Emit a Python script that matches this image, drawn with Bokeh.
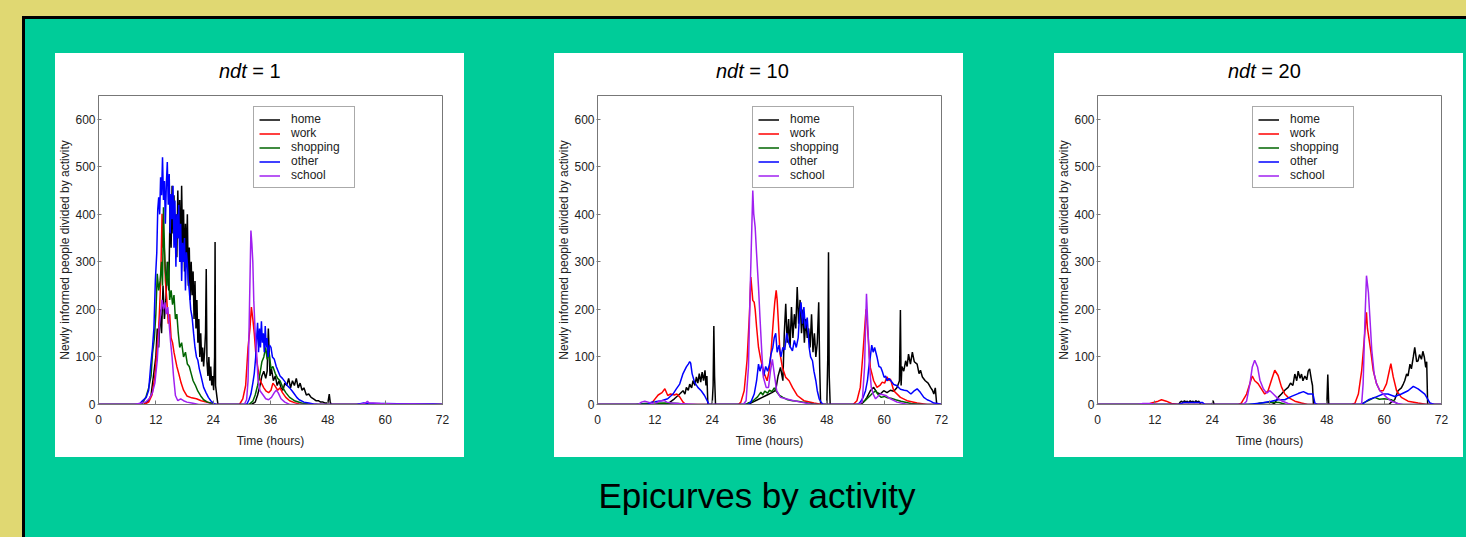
from bokeh.plotting import figure
from bokeh.models import Legend, LegendItem, Range1d, FixedTicker, Div
from bokeh.layouts import column, row
from bokeh.embed import file_html
from bokeh.resources import INLINE

# ---------------- data ----------------
ACTIVITIES = ["home", "work", "shopping", "other", "school"]
NDT_VALUES = ["1", "10", "20"]
X_TICKS = [0, 12, 24, 36, 48, 60, 72]
Y_TICKS = [0, 100, 200, 300, 400, 500, 600]
X_LABEL = "Time (hours)"
Y_LABEL = "Newly informed people divided by activity"
PAGE_TITLE = "Epicurves by activity"

# panel ndt = 1 : (time in hours, newly informed people)
P1_HOME = [(0,0),(9.5,0),(10.5,8),(11,20),(11.5,60),(12,100),(12.3,160),(12.6,120),(12.9,200),(13.2,150),(13.5,250),(13.8,180),(14.1,220),(14.4,300),(14.7,240),(15.0,420),(15.2,330),(15.4,460),(15.6,360),(15.8,440),(16.0,340),(16.2,400),(16.4,310),(16.6,450),(16.8,350),(17.0,430),(17.2,300),(17.4,460),(17.6,330),(17.8,410),(18.0,280),(18.2,380),(18.4,300),(18.6,400),(18.8,250),(19.0,330),(19.2,220),(19.4,300),(19.6,230),(19.8,280),(20.0,180),(20.2,260),(20.4,160),(20.6,220),(20.8,130),(21.0,180),(21.2,100),(21.4,150),(21.6,90),(21.8,120),(22.0,80),(22.2,110),(22.4,150),(22.55,285),(22.7,90),(22.9,60),(23.1,100),(23.3,50),(23.5,80),(23.7,40),(23.9,60),(24.1,30),(24.3,100),(24.4,342),(24.5,40),(24.8,15),(25.0,0),
           (32.0,0),(32.8,5),(33.3,20),(33.8,40),(34.2,60),(34.6,70),(35.0,55),(35.3,70),(35.55,160),(35.9,60),(36.2,75),(36.6,50),(37.0,60),(37.4,40),(37.8,50),(38.2,35),(38.6,30),(39.0,45),(39.4,40),(39.8,55),(40.2,35),(40.6,50),(41.0,40),(41.4,55),(41.8,35),(42.2,45),(42.6,30),(43.0,35),(43.5,20),(44.0,22),(44.5,15),(45.0,12),(45.5,8),(46.0,8),(46.5,5),(47.0,5),(47.5,3),(48.0,3),(48.3,22),(48.5,5),(48.7,0),(72,0)]
P1_WORK = [(0,0),(9.5,0),(10.5,5),(11.2,20),(11.8,60),(12.2,110),(12.6,160),(12.9,230),(13.1,300),(13.3,401),(13.5,330),(13.7,350),(14.0,260),(14.3,220),(14.6,170),(14.9,190),(15.2,140),(15.5,130),(15.8,110),(16.1,95),(16.4,80),(16.8,65),(17.3,45),(17.8,30),(18.5,18),(19.5,14),(20.5,12),(21.5,8),(23,4),(24.5,0),
           (29.5,0),(30.2,12),(30.8,40),(31.3,120),(31.7,160),(32.0,205),(32.3,180),(32.6,150),(32.9,110),(33.3,80),(33.7,55),(34.1,45),(34.6,35),(35.1,28),(35.6,25),(36.1,30),(36.5,45),(37.0,38),(37.5,30),(38.0,35),(38.5,25),(39.2,15),(40,8),(41,4),(42,1),(43,0),(72,0)]
P1_SHOP = [(0,0),(9,0),(9.9,15),(10.5,35),(11.0,60),(11.3,107),(11.7,140),(12.0,190),(12.3,275),(12.6,240),(12.9,260),(13.2,300),(13.4,250),(13.6,415),(13.8,330),(14.0,280),(14.3,250),(14.6,300),(14.9,220),(15.2,240),(15.5,210),(15.8,230),(16.1,180),(16.4,190),(16.7,150),(17.0,120),(17.4,130),(17.8,100),(18.2,110),(18.6,85),(19.0,80),(19.4,65),(19.8,50),(20.3,40),(20.8,28),(21.4,18),(22,10),(22.8,5),(23.5,3),(24.5,0),
           (31.5,0),(32.3,7),(32.8,20),(33.3,40),(33.8,65),(34.2,90),(34.6,100),(35.0,120),(35.3,95),(35.7,110),(36.1,75),(36.5,80),(37.0,65),(37.5,55),(38.0,50),(38.6,35),(39.2,25),(40,15),(41,8),(42.5,3),(44,1),(45,0),(72,0)]
P1_OTHER = [(0,0),(8.5,0),(9.2,8),(10.0,15),(10.5,30),(10.9,79),(11.3,120),(11.6,161),(11.9,261),(12.2,320),(12.4,410),(12.6,436),(12.8,400),(13.0,478),(13.2,440),(13.4,520),(13.6,430),(13.8,470),(14.0,380),(14.2,464),(14.4,510),(14.6,420),(14.8,485),(15.0,360),(15.2,443),(15.4,390),(15.6,460),(15.8,330),(16.0,429),(16.2,290),(16.4,400),(16.6,350),(16.8,420),(17.0,300),(17.2,380),(17.4,260),(17.6,340),(17.8,300),(18.0,350),(18.2,240),(18.4,320),(18.6,297),(18.8,260),(19.0,240),(19.3,200),(19.6,183),(19.9,150),(20.2,120),(20.5,100),(20.8,93),(21.1,75),(21.5,58),(22.0,36),(22.5,25),(23.0,15),(23.5,8),(24.0,3),(24.6,0),
            (31.0,0),(31.5,10),(31.9,22),(32.3,45),(32.6,65),(32.9,100),(33.1,140),(33.3,172),(33.5,110),(33.7,160),(33.9,120),(34.1,175),(34.3,130),(34.5,150),(34.7,110),(34.9,165),(35.1,120),(35.3,140),(35.5,100),(35.8,125),(36.1,120),(36.4,100),(36.8,95),(37.2,80),(37.6,70),(38.0,60),(38.5,55),(39.0,48),(39.5,40),(40.0,35),(40.5,29),(41.0,22),(41.5,15),(42.0,10),(43.0,5),(44.0,3),(45.0,1),(46.0,0),
            (54.0,0),(55.5,3),(57,2),(60,2),(65,1),(70,1),(72,0)]
P1_SCHOOL = [(0,0),(7.5,0),(9,3),(10,6),(10.6,12),(11.3,25),(11.8,45),(12.3,93),(12.7,163),(13.0,190),(13.3,220),(13.6,200),(13.9,215),(14.2,190),(14.5,205),(14.8,168),(15.1,130),(15.4,100),(15.7,60),(16.1,19),(16.6,8),(17.2,12),(17.8,8),(18.5,5),(19.5,3),(21,0),
             (30.5,0),(31.0,10),(31.3,50),(31.6,205),(31.9,366),(32.1,338),(32.3,300),(32.5,219),(32.8,150),(33.1,107),(33.4,50),(33.8,29),(34.3,22),(35.0,12),(35.6,10),(36.2,15),(36.8,25),(37.2,30),(37.6,25),(38.2,12),(39,5),(40,0),
             (54.5,0),(55.5,2),(56.0,4),(56.3,7),(56.6,3),(57.5,3),(59,2),(62,1),(66,1),(72,0)]

# panel ndt = 10
P2_HOME = [(0,0),(14.5,0),(16.1,12),(17.2,22),(17.9,29),(18.3,22),(18.6,36),(19.0,30),(19.3,43),(19.7,35),(20.0,50),(20.4,40),(20.7,58),(21.0,45),(21.3,65),(21.6,47),(21.9,68),(22.2,50),(22.5,72),(22.7,40),(22.9,60),(23.1,0),(24.0,0),(24.2,40),(24.35,165),(24.5,60),(24.7,0),
           (31.5,0),(32.5,5),(33.5,10),(34.5,15),(35.5,20),(36.5,25),(37.3,30),(37.8,60),(38.3,78),(38.8,50),(39.1,150),(39.4,212),(39.7,130),(40.0,180),(40.3,120),(40.6,205),(40.9,140),(41.2,190),(41.5,160),(41.8,247),(42.1,170),(42.4,220),(42.7,150),(43.0,200),(43.3,130),(43.6,180),(43.9,140),(44.2,160),(44.5,120),(44.8,190),(45.1,110),(45.4,150),(45.7,100),(46.0,130),(46.3,215),(46.5,80),(46.7,0),(48.0,0),(48.2,100),(48.35,320),(48.5,60),(48.7,0),
           (55,0),(55.7,5),(56.4,15),(57.1,29),(57.8,36),(58.5,25),(59.2,22),(59.9,29),(60.6,25),(61.3,30),(62.0,28),(62.7,36),(63.2,50),(63.4,199),(63.55,40),(63.7,80),(64.1,70),(64.5,92),(64.8,80),(65.1,106),(65.5,85),(65.9,110),(66.3,90),(66.9,85),(67.3,65),(67.6,72),(68.0,58),(68.6,50),(69.2,45),(69.7,36),(70.1,30),(70.4,22),(70.7,35),(71.0,0),(72,0)]
P2_WORK = [(0,0),(10.5,0),(11.5,5),(12.7,20),(13.5,25),(14.1,33),(14.7,19),(15.3,22),(16.1,20),(16.6,22),(17.2,16),(17.9,5),(18.5,0),
           (29.5,0),(30.0,5),(30.7,29),(31.3,93),(31.8,190),(32.1,268),(32.5,219),(32.8,215),(33.0,200),(33.3,163),(33.7,120),(34.2,93),(34.9,65),(35.5,50),(36.0,75),(36.3,107),(36.6,149),(36.9,190),(37.1,215),(37.4,240),(37.6,220),(37.8,184),(38.2,107),(38.7,78),(39.4,57),(40.1,50),(40.8,36),(41.8,19),(43.2,8),(45.3,3),(47,0),
           (53.5,0),(54.3,8),(55.0,36),(55.5,100),(55.9,156),(56.2,200),(56.4,175),(56.6,149),(57.1,78),(57.8,50),(58.5,36),(59.1,40),(59.6,47),(60.1,45),(60.6,58),(61.0,50),(61.3,54),(62.0,29),(63.4,15),(64.8,8),(66.9,3),(69,0),(72,0)]
P2_SHOP = [(0,0),(8,0),(10,2),(14,3),(17,2),(19,0),
           (31.0,0),(31.5,3),(32.3,6),(32.8,10),(33.5,16),(34.2,26),(34.6,20),(35.0,28),(35.6,24),(36.0,30),(36.5,27),(37.0,35),(37.4,28),(38.1,19),(38.8,15),(39.8,10),(40.8,8),(41.9,7),(43,5),(44,3),(46,0),
           (54.5,0),(55.1,3),(56.0,8),(56.5,13),(57.0,18),(57.6,24),(58.2,29),(58.8,20),(59.4,15),(60.0,17),(60.7,14),(61.4,13),(62.4,10),(63.5,7),(65.6,2),(68,0),(72,0)]
P2_OTHER = [(0,0),(10.5,0),(11.3,5),(13.4,8),(14.7,12),(15.8,22),(16.5,33),(17.2,43),(17.9,65),(18.6,79),(19.0,85),(19.3,90),(19.5,87),(19.8,65),(20.3,47),(21.0,36),(21.7,29),(22.4,19),(23.1,5),(23.3,0),
            (31.5,0),(32.1,5),(32.8,22),(33.3,50),(33.7,85),(34.0,70),(34.4,85),(34.8,60),(35.2,80),(35.6,70),(36.0,85),(36.3,105),(36.7,120),(37.0,141),(37.3,150),(37.6,110),(38.0,125),(38.4,100),(38.8,120),(39.2,115),(39.6,150),(40.0,130),(40.4,120),(40.8,113),(41.2,135),(41.6,120),(42.0,140),(42.3,190),(42.6,215),(42.9,170),(43.2,205),(43.5,160),(43.9,183),(44.3,120),(44.6,100),(45.0,92),(45.3,70),(45.7,50),(46.0,29),(46.4,12),(46.8,5),(47.2,0),
            (54.5,0),(55.0,5),(55.6,15),(56.1,29),(56.5,50),(56.8,79),(57.1,100),(57.4,125),(57.7,110),(58.0,120),(58.5,100),(58.9,80),(59.3,78),(59.6,70),(60.0,57),(60.3,60),(60.6,50),(61.0,55),(61.4,50),(62.0,42),(62.6,40),(63.4,32),(64.2,30),(64.8,29),(65.6,22),(66.2,28),(66.9,33),(67.6,25),(68.3,15),(69.0,10),(69.7,7),(70.4,3),(71.2,2),(72,0)]
P2_SCHOOL = [(0,0),(8.5,0),(9.2,5),(9.9,7),(10.6,5),(11.5,2),(12.5,4),(13.0,8),(14.0,8),(14.5,5),(15.5,3),(17,2),(19,1),(21,0),
             (30.5,0),(31.1,8),(31.6,79),(31.9,219),(32.3,373),(32.5,450),(32.7,401),(33.0,373),(33.3,317),(33.7,247),(34.0,184),(34.4,107),(34.7,58),(35.3,36),(35.8,36),(36.2,70),(36.6,95),(37.1,57),(37.5,29),(38.3,15),(39.4,12),(41.1,8),(42.5,5),(44.6,1),(46,0),
             (54.5,0),(55.4,5),(55.9,79),(56.1,163),(56.3,233),(56.6,163),(56.9,85),(57.3,36),(57.7,22),(58.2,12),(59.2,22),(60.3,19),(61.3,12),(62.7,5),(65,0),(72,0)]

# panel ndt = 20
P3_HOME = [(0,0),(17.0,0),(17.3,5),(17.6,7),(17.9,4),(18.2,8),(18.5,5),(18.8,7),(19.1,4),(19.4,8),(19.7,5),(20.0,7),(20.3,4),(20.6,8),(20.9,5),(21.2,7),(21.4,4),(21.6,0),(24.0,0),(24.2,8),(24.4,0),
           (36.5,0),(37.1,3),(37.8,15),(38.5,22),(39.2,30),(39.9,36),(40.4,45),(40.9,40),(41.3,64),(41.7,50),(42.0,70),(42.4,55),(42.7,64),(43.0,50),(43.4,60),(43.8,52),(44.1,70),(44.4,75),(44.8,50),(45.0,40),(45.2,0),(48.0,0),(48.2,63),(48.4,0),
           (61.0,0),(61.5,5),(62.2,10),(62.9,29),(63.6,35),(64.0,43),(64.3,50),(64.7,64),(65.0,60),(65.4,85),(65.7,75),(66.1,100),(66.4,120),(66.8,90),(67.1,92),(67.4,105),(67.8,95),(68.1,112),(68.4,100),(68.7,78),(68.9,90),(69.1,0),(72,0)]
P3_WORK = [(0,0),(10.5,0),(11.3,3),(12.7,7),(13.4,10),(14.4,7),(15.5,2),(17,0),
           (29.5,0),(30.1,3),(31.2,22),(31.9,44),(32.4,60),(32.9,50),(33.6,44),(34.3,33),(35.0,22),(35.7,29),(36.4,51),(37.1,72),(37.8,61),(38.5,37),(39.2,22),(39.9,15),(41.3,7),(42.7,3),(44,0),
           (53.2,0),(53.9,3),(54.6,22),(55.3,72),(55.8,133),(56.1,170),(56.3,194),(56.5,160),(56.7,147),(57.2,112),(57.7,72),(58.4,44),(59.1,29),(59.8,29),(60.5,44),(61.1,72),(61.4,86),(61.9,58),(62.6,29),(63.6,15),(65.0,7),(67.1,3),(69,0),(72,0)]
P3_SHOP = [(0,0),(33,0),(34,3),(36,5),(38,4),(39.5,0),(55,0),(56,5),(57,10),(58,15),(59,11),(60,12),(61.5,10),(63,0),(72,0)]
P3_OTHER = [(0,0),(17,0),(18,4),(20,4),(22,4),(22.5,0),
            (31.5,0),(34.3,3),(36.4,7),(37.8,10),(39.2,10),(40.6,17),(42.0,23),(43.1,27),(44.1,22),(45.1,22),(45.5,3),(46,0),
            (55.3,0),(56.7,10),(58.1,15),(59.8,22),(60.8,22),(62.2,17),(63.6,22),(65.0,29),(66.1,38),(67.1,33),(68.5,22),(69.6,3),(70.5,0),(72,0)]
P3_SCHOOL = [(0,0),(8.5,0),(9.5,2),(11,2),(12.5,0),
             (30.5,0),(31.2,7),(31.9,44),(32.4,79),(32.9,93),(33.5,79),(34.0,51),(34.7,33),(35.4,24),(36.1,29),(36.8,22),(37.5,15),(38.5,8),(39.9,2),(41,0),
             (55.0,0),(55.3,3),(55.6,44),(56.0,185),(56.3,271),(56.7,236),(57.0,185),(57.4,115),(57.9,65),(58.4,44),(59.1,29),(59.8,22),(60.5,15),(61.5,7),(62.9,2),(64,0),(72,0)]

PANELS = [
    [P1_HOME, P1_WORK, P1_SHOP, P1_OTHER, P1_SCHOOL],
    [P2_HOME, P2_WORK, P2_SHOP, P2_OTHER, P2_SCHOOL],
    [P3_HOME, P3_WORK, P3_SHOP, P3_OTHER, P3_SCHOOL],
]

# ---------------- styling ----------------
FONT = "Liberation Sans"
FONT_CSS = "'Liberation Sans', Arial, sans-serif"
COLORS = ["#000000", "#FF0000", "#006400", "#0000FF", "#A020F0"]
YELLOW = "#E0D872"
GREEN = "#00CC99"
FRAME_GREY = "#777777"
TEXT_DARK = "#222222"
PANEL_LEFT_GAP = [0, 90, 91]
TITLE_LEFT = [164, 162, 174]


def make_figure(idx):
    p = figure(width=409, height=364, x_range=Range1d(0, 72), y_range=Range1d(0, 650),
               output_backend="svg", toolbar_location=None, tools="",
               min_border_left=43, min_border_right=22, min_border_top=2, min_border_bottom=53,
               border_fill_color="white", background_fill_color="white",
               outline_line_color=FRAME_GREY, outline_line_width=1)
    p.grid.visible = False
    p.xaxis.ticker = FixedTicker(ticks=X_TICKS)
    p.yaxis.ticker = FixedTicker(ticks=Y_TICKS)
    p.xaxis.axis_label = X_LABEL
    p.yaxis.axis_label = Y_LABEL
    for ax in (p.xaxis[0], p.yaxis[0]):
        ax.axis_line_color = FRAME_GREY
        ax.major_tick_line_color = FRAME_GREY
        ax.minor_tick_line_color = None
        ax.major_label_text_font = FONT
        ax.major_label_text_font_size = "12px"
        ax.major_label_text_color = TEXT_DARK
        ax.axis_label_text_font = FONT
        ax.axis_label_text_font_size = "12px"
        ax.axis_label_text_font_style = "normal"
        ax.axis_label_text_color = TEXT_DARK
    p.xaxis.major_tick_in = 4
    p.xaxis.major_tick_out = 0
    p.xaxis.major_label_standoff = 10
    p.xaxis.axis_label_standoff = 7
    p.yaxis.major_tick_in = 3
    p.yaxis.major_tick_out = 1
    p.yaxis.major_label_standoff = 2
    p.yaxis.axis_label_standoff = 0

    items = []
    for name, color, pts in zip(ACTIVITIES, COLORS, PANELS[idx]):
        t = [a for a, b in pts]
        v = [b for a, b in pts]
        r = p.line(t, v, line_color=color, line_width=1.5)
        items.append(LegendItem(label=name, renderers=[r]))
    legend = Legend(items=items, location=(155, 216), padding=5, margin=0, spacing=0,
                    glyph_width=21, glyph_height=13, label_height=13, label_width=58,
                    label_standoff=11, label_text_font=FONT, label_text_font_size="12px",
                    label_text_line_height=1.0, label_text_color=TEXT_DARK,
                    border_line_color="#555555", border_line_width=1,
                    background_fill_color="white", background_fill_alpha=1)
    p.add_layout(legend)
    return p


def make_panel(idx):
    head = Div(text="<i>ndt</i> = " + NDT_VALUES[idx], width=409 - TITLE_LEFT[idx], height=34,
               margin=(6, 0, 0, TITLE_LEFT[idx]),
               styles={"font-family": FONT_CSS, "font-size": "20px", "line-height": "24px",
                       "color": "black", "white-space": "nowrap"})
    fig = make_figure(idx)
    return column(head, fig, width=409, height=404, sizing_mode="fixed", spacing=0,
                  margin=(0, 0, 0, PANEL_LEFT_GAP[idx]), styles={"background-color": "white"})


panels = [make_panel(i) for i in range(3)]
panels_row = row(*panels, margin=(34, 0, 0, 30), spacing=0)

title_div = Div(text=PAGE_TITLE, width=700, height=41, margin=(19, 0, 0, 382),
                styles={"font-family": FONT_CSS, "font-size": "35px",
                        "line-height": "40px", "text-align": "center", "color": "black"})

green = column(panels_row, title_div, width=1441, height=518, margin=(3, 0, 0, 3),
               sizing_mode="fixed", spacing=0, styles={"background-color": GREEN})
outer = column(green, width=1444, height=521, margin=(16, 0, 0, 22),
               sizing_mode="fixed", styles={"background-color": "#000000"})

PAGE_STYLE = ("<style>html, body { margin: 0 !important; padding: 0 !important; "
              "background-color: " + YELLOW + " !important; overflow: hidden; }</style>")
TEMPLATE = ("{% block preamble %}" + PAGE_STYLE + "{% endblock %}"
            "{% block postamble %}" + PAGE_STYLE + "{% endblock %}")

open("out.html", "w").write(file_html(outer, INLINE, title=PAGE_TITLE, template=TEMPLATE))
